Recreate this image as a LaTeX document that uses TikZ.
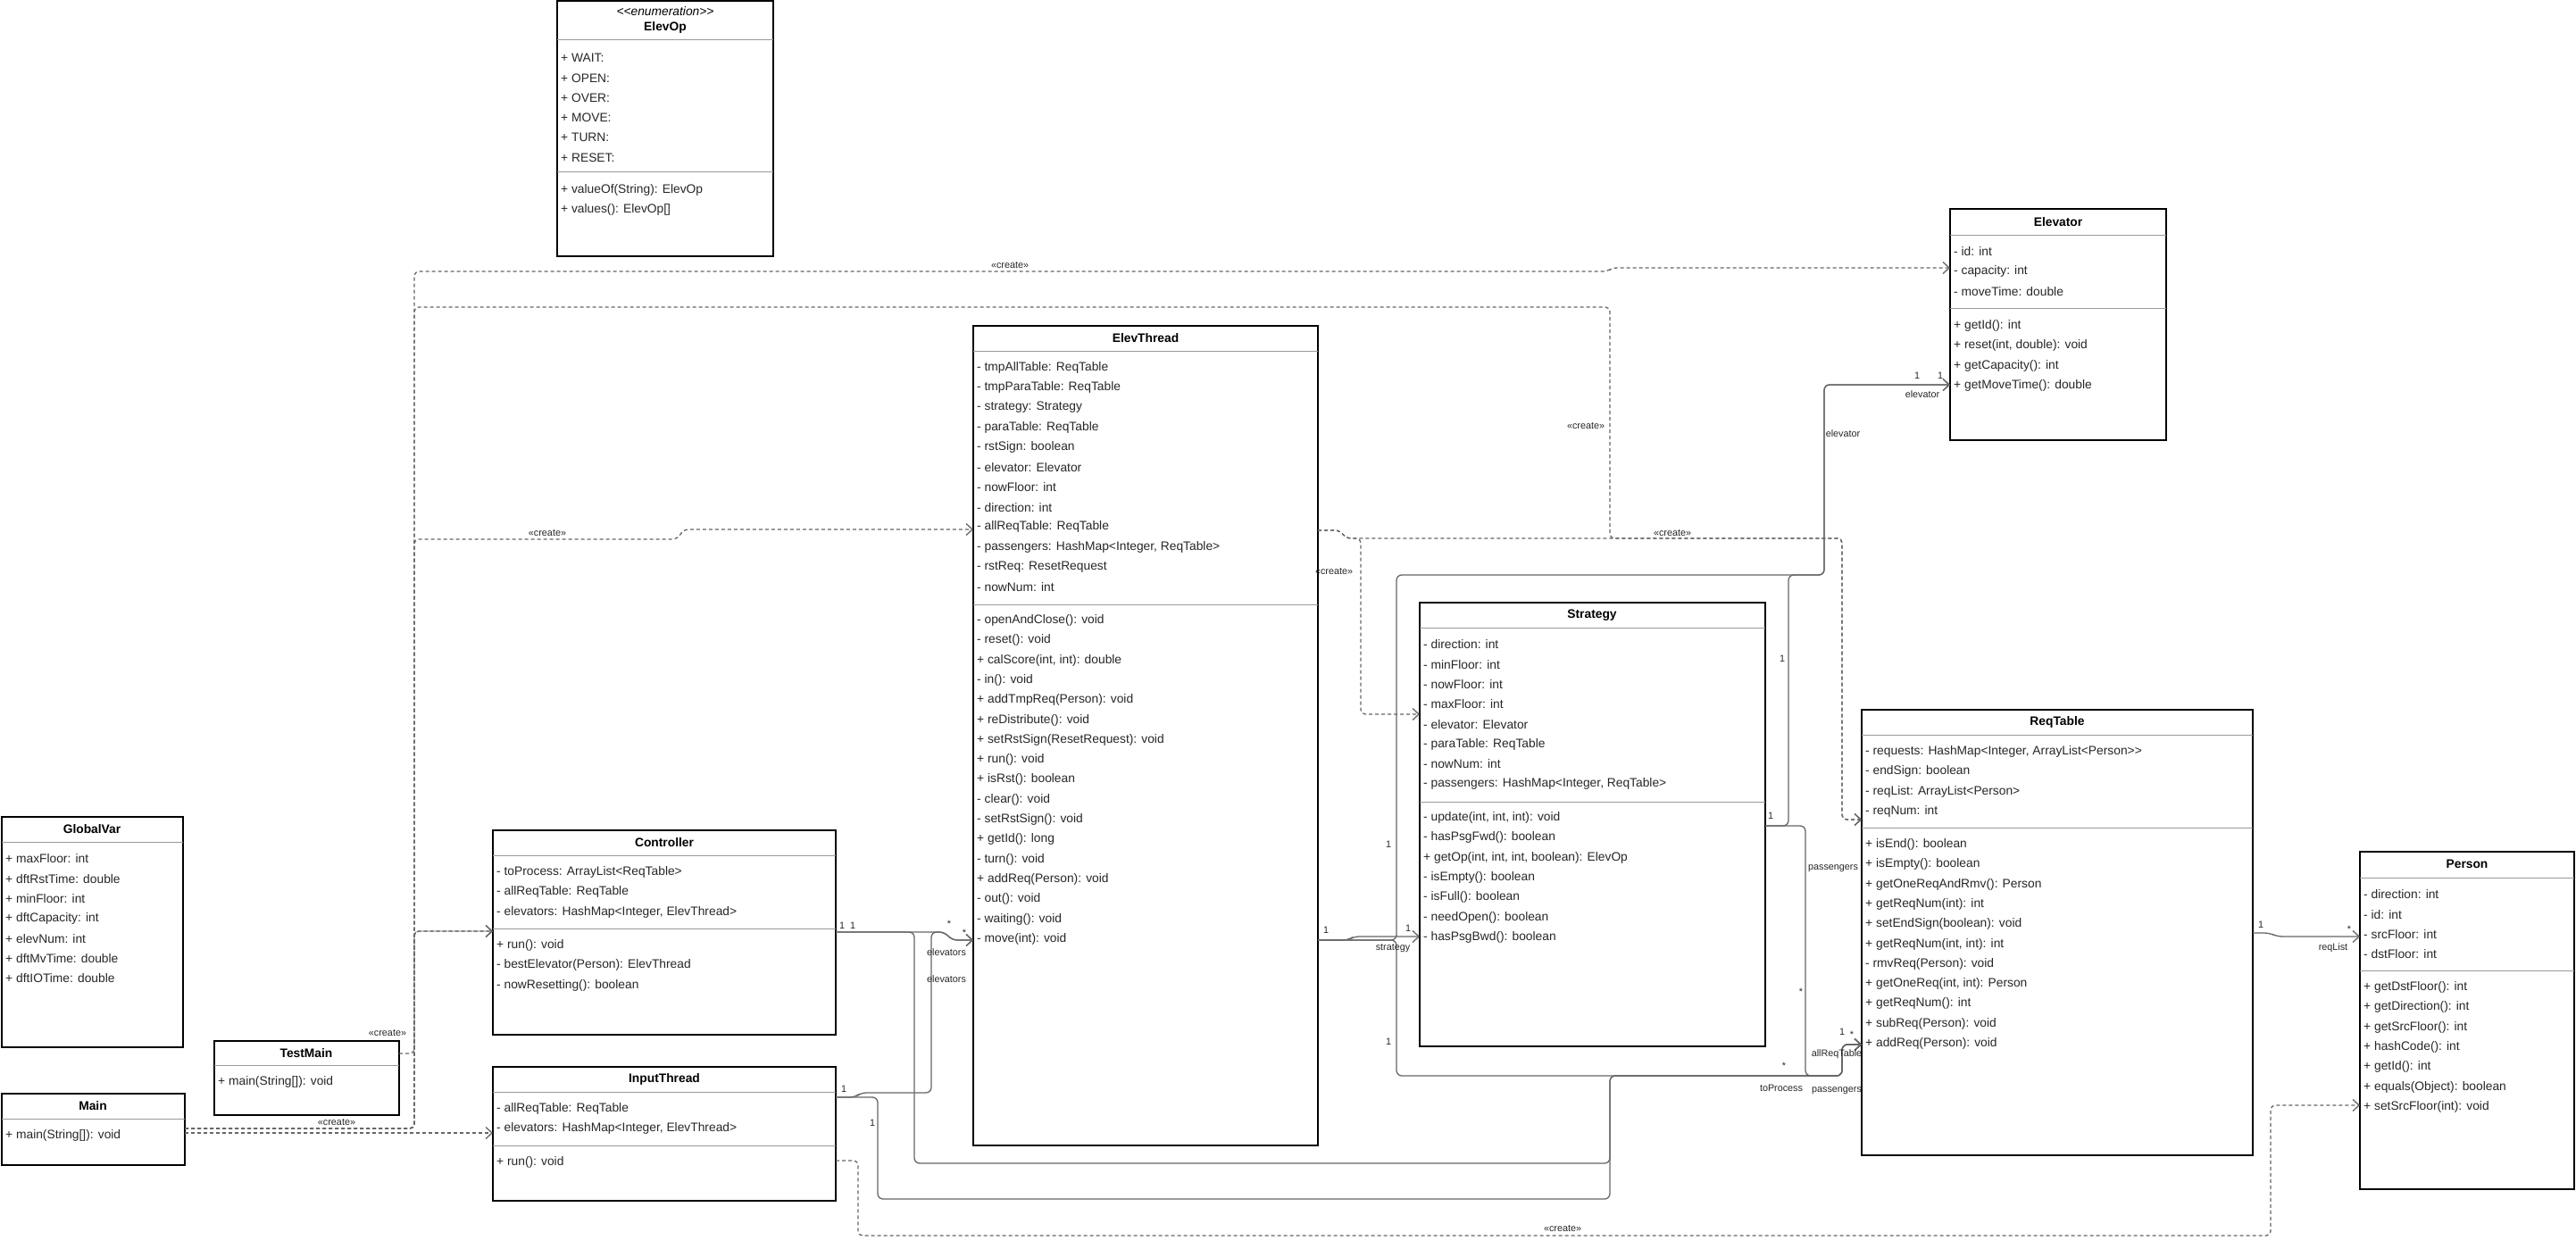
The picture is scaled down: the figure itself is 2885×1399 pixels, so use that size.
\documentclass[tikz,border=0pt]{standalone}
\usepackage{fontspec}
\setmainfont{Liberation Sans}
\usetikzlibrary{arrows.meta}

\begin{document}
\begin{tikzpicture}[
    x=1pt, y=-1pt,
    class_box/.style={draw=black, line width=1.4pt, anchor=north west, inner sep=0pt, outer sep=0pt},
    sep_line/.style={draw=black!40, line width=1pt},
    title/.style={font=\fontsize{13.8}{16}\selectfont\bfseries, inner sep=0pt},
    stereo/.style={font=\fontsize{13.8}{16}\selectfont\itshape, inner sep=0pt},
    member/.style={anchor=west, font=\fontsize{13.8}{16}\selectfont, text=black!85, inner sep=0pt},
    small_lbl/.style={font=\fontsize{10.8}{12}\selectfont, text=black!85, inner sep=0pt},
    assoc/.style={draw=black!60, line width=1.3pt, rounded corners=6pt, -{Straight Barb[length=7pt,width=13pt]}},
    dep/.style={assoc, rounded corners=5pt, dash pattern=on 4pt off 3pt},
]
\useasboundingbox (0,0) rectangle (2885,1399);

% ElevOp
\node[class_box, minimum width=242pt, minimum height=286pt] (ElevOp) at (624,1) {};
\draw[sep_line] (ElevOp.west |- 0,45) -- (ElevOp.east |- 0,45);
\draw[sep_line] (ElevOp.west |- 0,193) -- (ElevOp.east |- 0,193);
\node[stereo] (eo-st) at (745,13) {<{}<enumeration>{}>};
\node[title] (eo-t) at (745,31) {ElevOp};
\foreach \txt [count=\i from 0] in {+ WAIT:, + OPEN:, + OVER:, + MOVE:, + TURN:, + RESET:}
    \node[member] (eo-f\i) at (628,65+\i*22.3) {\txt};
\foreach \txt [count=\i from 0] in {+ valueOf(String): ElevOp, {+ values(): ElevOp[]}}
    \node[member] (eo-m\i) at (628,213+\i*22.3) {\txt};

% Elevator
\node[class_box, minimum width=242pt, minimum height=259pt] (Elevator) at (2184,234) {};
\draw[sep_line] (Elevator.west |- 0,263) -- (Elevator.east |- 0,263);
\draw[sep_line] (Elevator.west |- 0,345) -- (Elevator.east |- 0,345);
\node[title] (el-t) at (2305,249) {Elevator};
\foreach \txt [count=\i from 0] in {- id: int, - capacity: int, - moveTime: double}
    \node[member] (el-f\i) at (2188,282+\i*22.3) {\txt};
\foreach \txt [count=\i from 0] in {+ getId(): int, {+ reset(int, double): void}, + getCapacity(): int, + getMoveTime(): double}
    \node[member] (el-m\i) at (2188,365+\i*22.3) {\txt};

% ElevThread
\node[class_box, minimum width=386pt, minimum height=918pt] (ElevThread) at (1090,365) {};
\draw[sep_line] (ElevThread.west |- 0,393) -- (ElevThread.east |- 0,393);
\draw[sep_line] (ElevThread.west |- 0,677) -- (ElevThread.east |- 0,677);
\node[title] (et-t) at (1283,379) {ElevThread};
\foreach \txt [count=\i from 0] in {- tmpAllTable: ReqTable, - tmpParaTable: ReqTable, - strategy: Strategy,
        - paraTable: ReqTable, - rstSign: boolean, - elevator: Elevator, - nowFloor: int, - direction: int,
        - allReqTable: ReqTable, {- passengers: HashMap<Integer, ReqTable>}, - rstReq: ResetRequest, - nowNum: int}
    \node[member] (et-f\i) at (1094,412+\i*22.3) {\txt};
\foreach \txt [count=\i from 0] in {- openAndClose(): void, - reset(): void, {+ calScore(int, int): double},
        - in(): void, + addTmpReq(Person): void, + reDistribute(): void, + setRstSign(ResetRequest): void,
        + run(): void, + isRst(): boolean, - clear(): void, - setRstSign(): void, + getId(): long,
        - turn(): void, + addReq(Person): void, - out(): void, - waiting(): void, - move(int): void}
    \node[member] (et-m\i) at (1094,695+\i*22.3) {\txt};

% Strategy
\node[class_box, minimum width=387pt, minimum height=497pt] (Strategy) at (1590,675) {};
\draw[sep_line] (Strategy.west |- 0,703) -- (Strategy.east |- 0,703);
\draw[sep_line] (Strategy.west |- 0,898) -- (Strategy.east |- 0,898);
\node[title] (st-t) at (1783,689) {Strategy};
\foreach \txt [count=\i from 0] in {- direction: int, - minFloor: int, - nowFloor: int, - maxFloor: int,
        - elevator: Elevator, - paraTable: ReqTable, - nowNum: int, {- passengers: HashMap<Integer, ReqTable>}}
    \node[member] (st-f\i) at (1594,722+\i*22.3) {\txt};
\foreach \txt [count=\i from 0] in {{- update(int, int, int): void}, - hasPsgFwd(): boolean,
        {+ getOp(int, int, int, boolean): ElevOp}, - isEmpty(): boolean, - isFull(): boolean,
        - needOpen(): boolean, - hasPsgBwd(): boolean}
    \node[member] (st-m\i) at (1594,916+\i*22.3) {\txt};

% ReqTable
\node[class_box, minimum width=438pt, minimum height=499pt] (ReqTable) at (2085,795) {};
\draw[sep_line] (ReqTable.west |- 0,823) -- (ReqTable.east |- 0,823);
\draw[sep_line] (ReqTable.west |- 0,927) -- (ReqTable.east |- 0,927);
\node[title] (rt-t) at (2304,809) {ReqTable};
\foreach \txt [count=\i from 0] in {{- requests: HashMap<Integer, ArrayList<Person>{}>}, - endSign: boolean,
        - reqList: ArrayList<Person>, - reqNum: int}
    \node[member] (rt-f\i) at (2089,842+\i*22.3) {\txt};
\foreach \txt [count=\i from 0] in {+ isEnd(): boolean, + isEmpty(): boolean, + getOneReqAndRmv(): Person,
        + getReqNum(int): int, + setEndSign(boolean): void, {+ getReqNum(int, int): int}, - rmvReq(Person): void,
        {+ getOneReq(int, int): Person}, + getReqNum(): int, + subReq(Person): void, + addReq(Person): void}
    \node[member] (rt-m\i) at (2089,946+\i*22.3) {\txt};

% Person
\node[class_box, minimum width=240pt, minimum height=378pt] (Person) at (2643,954) {};
\draw[sep_line] (Person.west |- 0,983) -- (Person.east |- 0,983);
\draw[sep_line] (Person.west |- 0,1087) -- (Person.east |- 0,1087);
\node[title] (pe-t) at (2763,968) {Person};
\foreach \txt [count=\i from 0] in {- direction: int, - id: int, - srcFloor: int, - dstFloor: int}
    \node[member] (pe-f\i) at (2647,1002+\i*22.3) {\txt};
\foreach \txt [count=\i from 0] in {+ getDstFloor(): int, + getDirection(): int, + getSrcFloor(): int,
        + hashCode(): int, + getId(): int, + equals(Object): boolean, + setSrcFloor(int): void}
    \node[member] (pe-m\i) at (2647,1106+\i*22.3) {\txt};

% GlobalVar
\node[class_box, minimum width=203pt, minimum height=258pt] (GlobalVar) at (2,915) {};
\draw[sep_line] (GlobalVar.west |- 0,943) -- (GlobalVar.east |- 0,943);
\node[title] (gv-t) at (103,929) {GlobalVar};
\foreach \txt [count=\i from 0] in {+ maxFloor: int, + dftRstTime: double, + minFloor: int, + dftCapacity: int,
        + elevNum: int, + dftMvTime: double, + dftIOTime: double}
    \node[member] (gv-f\i) at (6,962+\i*22.3) {\txt};

% Main and TestMain
\node[class_box, minimum width=205pt, minimum height=80pt] (Main) at (2,1225) {};
\draw[sep_line] (Main.west |- 0,1253) -- (Main.east |- 0,1253);
\node[title] (mn-t) at (104,1239) {Main};
\node[member] (mn-m0) at (6,1272) {+ main(String[]): void};

\node[class_box, minimum width=207pt, minimum height=83pt] (TestMain) at (240,1166) {};
\draw[sep_line] (TestMain.west |- 0,1193) -- (TestMain.east |- 0,1193);
\node[title] (tm-t) at (343,1180) {TestMain};
\node[member] (tm-m0) at (244,1212) {+ main(String[]): void};

% Controller
\node[class_box, minimum width=384pt, minimum height=229pt] (Controller) at (552,930) {};
\draw[sep_line] (Controller.west |- 0,958) -- (Controller.east |- 0,958);
\draw[sep_line] (Controller.west |- 0,1040) -- (Controller.east |- 0,1040);
\node[title] (ct-t) at (744,944) {Controller};
\foreach \txt [count=\i from 0] in {- toProcess: ArrayList<ReqTable>, - allReqTable: ReqTable,
        {- elevators: HashMap<Integer, ElevThread>}}
    \node[member] (ct-f\i) at (556,977+\i*22.3) {\txt};
\foreach \txt [count=\i from 0] in {+ run(): void, - bestElevator(Person): ElevThread, - nowResetting(): boolean}
    \node[member] (ct-m\i) at (556,1059+\i*22.3) {\txt};

% InputThread
\node[class_box, minimum width=384pt, minimum height=150pt] (InputThread) at (552,1195) {};
\draw[sep_line] (InputThread.west |- 0,1223) -- (InputThread.east |- 0,1223);
\draw[sep_line] (InputThread.west |- 0,1283) -- (InputThread.east |- 0,1283);
\node[title] (it-t) at (744,1209) {InputThread};
\foreach \txt [count=\i from 0] in {- allReqTable: ReqTable, {- elevators: HashMap<Integer, ElevThread>}}
    \node[member] (it-f\i) at (556,1242+\i*22.3) {\txt};
\node[member] (it-m0) at (556,1302) {+ run(): void};

% connector ends
\coordinate (mn-p1) at (Main.east |- 0,1264);
\coordinate (mn-p2) at (Main.east |- 0,1269);
\coordinate (tm-p) at (TestMain.east |- 0,1180);
\coordinate (el-d) at (Elevator.west |- 0,300);
\coordinate (el-a) at (Elevator.west |- 0,431);
\coordinate (rt-d) at (ReqTable.west |- 0,918);
\coordinate (rt-a) at (ReqTable.west |- 0,1170);
\coordinate (rt-o) at (ReqTable.east |- 0,1045);
\coordinate (et-d-in) at (ElevThread.west |- 0,593);
\coordinate (et-a) at (ElevThread.west |- 0,1053);
\coordinate (et-d-out) at (ElevThread.east |- 0,594);
\coordinate (et-s) at (ElevThread.east |- 0,1053);
\coordinate (st-d) at (Strategy.west |- 0,800);
\coordinate (st-a) at (Strategy.west |- 0,1049);
\coordinate (st-o) at (Strategy.east |- 0,925);
\coordinate (ct-d) at (Controller.west |- 0,1043);
\coordinate (ct-o) at (Controller.east |- 0,1044);
\coordinate (it-d) at (InputThread.west |- 0,1269);
\coordinate (it-o) at (InputThread.east |- 0,1229);
\coordinate (it-c) at (InputThread.east |- 0,1300);
\coordinate (pe-a) at (Person.west |- 0,1049);
\coordinate (pe-d) at (Person.west |- 0,1238);

% «create» dependencies
\draw[dep] (mn-p1) -- (464,1264) -- (464,304) -- (1800,304) -- (1806,300) -- (el-d);
\draw[dep] (mn-p1) -- (464,1264) -- (464,344) -- (1803,344) -- (1803,603) -- (2063,603) -- (2063,918) -- (rt-d);
\draw[dep] (mn-p1) -- (464,1264) -- (464,604) -- (758,604) -- (766,593) -- (et-d-in);
\draw[dep] (mn-p1) -- (464,1264) -- (464,1043) -- (ct-d);
\draw[dep] (tm-p) -- (464,1180) -- (464,1043) -- (ct-d);
\draw[dep] (mn-p2) -- (it-d);
\draw[dep] (et-d-out) -- (1500,594) -- (1508,603) -- (1524,603) -- (1524,800) -- (st-d);
\draw[dep] (et-d-out) -- (1500,594) -- (1508,603) -- (2063,603) -- (2063,918) -- (rt-d);
\draw[dep] (it-c) -- (961,1300) -- (961,1384) -- (2543,1384) -- (2543,1238) -- (pe-d);

\node[small_lbl] (c-el) at (1131,297) {«create»};
\node[small_lbl] (c-rt) at (1776,477) {«create»};
\node[small_lbl] (c-et) at (613,597) {«create»};
\node[small_lbl] (c-rt2) at (1873,597) {«create»};
\node[small_lbl] (c-st) at (1494,640) {«create»};
\node[small_lbl] (c-it) at (377,1257) {«create»};
\node[small_lbl] (c-ct) at (434,1157) {«create»};
\node[small_lbl] (c-pe) at (1750,1376) {«create»};

% associations
\draw[assoc] (ct-o) -- (1058,1044) -- (1066,1053) -- (et-a);
\draw[assoc] (it-o) -- (958,1229) -- (964,1224) -- (1043,1224) -- (1043,1044) -- (1058,1044) -- (1066,1053) -- (et-a);
\draw[assoc] (ct-o) -- (1024,1044) -- (1024,1303) -- (1803,1303) -- (1803,1205) -- (2063,1205) -- (2063,1170) -- (rt-a);
\draw[assoc] (it-o) -- (983,1229) -- (983,1343) -- (1803,1343) -- (1803,1205) -- (2063,1205) -- (2063,1170) -- (rt-a);
\draw[assoc] (et-s) -- (1510,1053) -- (1516,1049) -- (st-a);
\draw[assoc] (et-s) -- (1564,1053) -- (1564,644) -- (2043,644) -- (2043,431) -- (el-a);
\draw[assoc] (et-s) -- (1564,1053) -- (1564,1205) -- (2063,1205) -- (2063,1170) -- (rt-a);
\draw[assoc] (st-o) -- (2003,925) -- (2003,644) -- (2043,644) -- (2043,431) -- (el-a);
\draw[assoc] (st-o) -- (2022,925) -- (2022,1205) -- (2063,1205) -- (2063,1170) -- (rt-a);
\draw[assoc] (rt-o) -- (2542,1045) -- (2550,1049) -- (pe-a);

% multiplicities and roles
\node[small_lbl] (m-ct1) at (943,1037) {1};
\node[small_lbl] (m-ct2) at (955,1037) {1};
\node[small_lbl] (m-et1) at (1063,1035) {*};
\node[small_lbl] (m-et2) at (1080,1045) {*};
\node[small_lbl] (r-ev1) at (1060,1067) {elevators};
\node[small_lbl] (r-ev2) at (1060,1097) {elevators};
\node[small_lbl] (m-it1) at (945,1220) {1};
\node[small_lbl] (m-it2) at (977,1258) {1};
\node[small_lbl] (m-es1) at (1485,1042) {1};
\node[small_lbl] (m-es2) at (1577,1040) {1};
\node[small_lbl] (r-st) at (1560,1062) {strategy};
\node[small_lbl] (m-ee) at (1555,946) {1};
\node[small_lbl] (m-er) at (1555,1167) {1};
\node[small_lbl] (m-so1) at (1983,914) {1};
\node[small_lbl] (m-so2) at (1996,738) {1};
\node[small_lbl] (r-el1) at (2064,486) {elevator};
\node[small_lbl] (m-el1) at (2147,421) {1};
\node[small_lbl] (m-el2) at (2173,421) {1};
\node[small_lbl] (r-el2) at (2153,442) {elevator};
\node[small_lbl] (r-ps1) at (2053,973) {passengers};
\node[small_lbl] (m-ps1) at (2017,1111) {*};
\node[small_lbl] (m-rt1) at (2063,1156) {1};
\node[small_lbl] (m-rt2) at (2074,1159) {*};
\node[small_lbl] (r-ar) at (2057,1181) {allReqTable};
\node[small_lbl] (m-tp) at (1998,1194) {*};
\node[small_lbl] (r-tp) at (1995,1219) {toProcess};
\node[small_lbl] (r-ps2) at (2057,1222) {passengers};
\node[small_lbl] (m-rl1) at (2532,1036) {1};
\node[small_lbl] (m-rl2) at (2631,1041) {*};
\node[small_lbl] (r-rl) at (2613,1062) {reqList};
\end{tikzpicture}
\end{document}
